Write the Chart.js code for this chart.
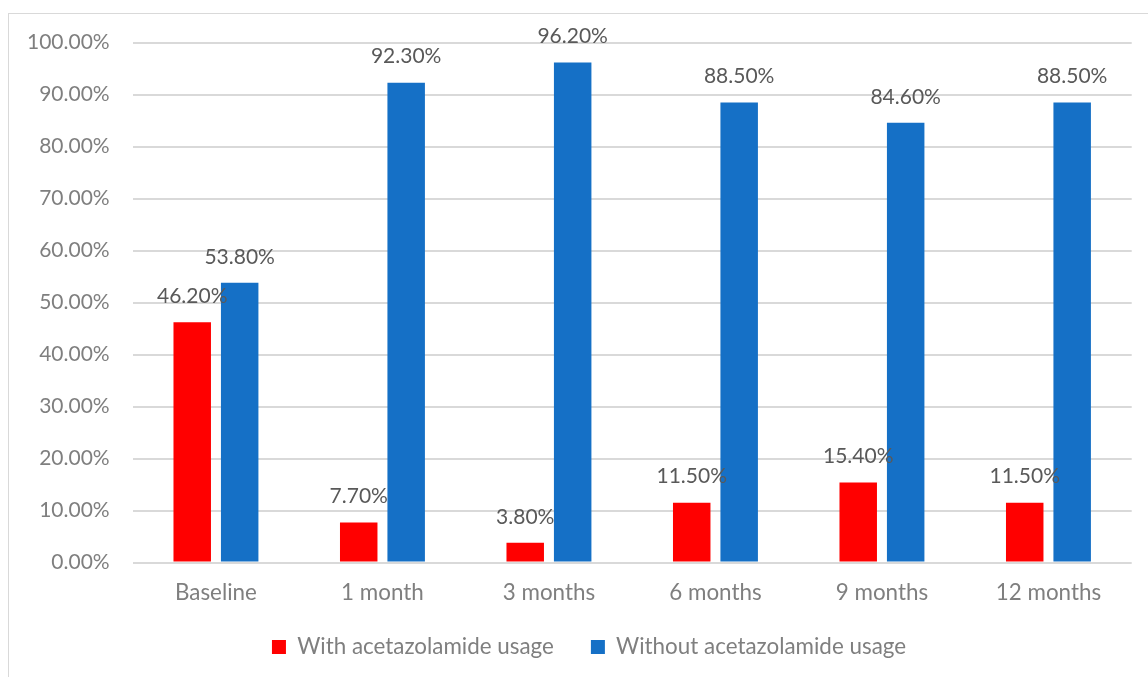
<!DOCTYPE html>
<html>
<head>
<meta charset="utf-8">
<script src="https://cdn.jsdelivr.net/npm/chart.js@4.4.1/dist/chart.umd.min.js"></script>
<style>
  html, body { margin: 0; padding: 0; background: #fff; overflow: hidden; width: 1148px; height: 677px; }
  #frame { position: absolute; left: 8px; top: 13px; border: 1px solid #D9D9D9; width: 1160px; height: 700px; }
  #chart { display: block; }
</style>
</head>
<body>
<div id="frame"><canvas id="chart" width="1160" height="700"></canvas></div>
<script>
// Visit categories
const categories = ['Baseline', '1 month', '3 months', '6 months', '9 months', '12 months'];
// Share of patients (%) per visit
const withAcetazolamide = [46.2, 7.7, 3.8, 11.5, 15.4, 11.5];
const withoutAcetazolamide = [53.8, 92.3, 96.2, 88.5, 84.6, 88.5];
// Series names
const seriesNames = ['With acetazolamide usage', 'Without acetazolamide usage'];
// Y axis range and tick step
const yMin = 0, yMax = 100, yStep = 10;

const fmtPct = v => Number(v).toFixed(2) + '%';

// Legend sits centred under the whole frame, a little below the axis labels
const LEGEND_LEFT = 37.3;
const LEGEND_TEXT_Y = 633;
const legendPlacement = {
  id: 'legendPlacement',
  afterLayout(chart) {
    const lg = chart.legend;
    const opts = lg.options.labels;
    lg.left = LEGEND_LEFT;
    lg.width = lg.right - lg.left;
    lg.top = LEGEND_TEXT_Y - opts.padding - opts.font.size / 2;
    lg.bottom = lg.top + lg.height;
  }
};

// Writes each bar's value just above it
const valueLabels = {
  id: 'valueLabels',
  afterDatasetsDraw(chart) {
    const ctx = chart.ctx;
    ctx.save();
    ctx.font = '21px Lato';
    ctx.fillStyle = '#595959';
    ctx.textAlign = 'center';
    ctx.textBaseline = 'middle';
    chart.data.datasets.forEach((ds, i) => {
      chart.getDatasetMeta(i).data.forEach((bar, j) => {
        ctx.fillText(fmtPct(ds.data[j]), bar.x, bar.y - 26);
      });
    });
    ctx.restore();
  }
};

Chart.defaults.font.family = 'Lato';
Chart.defaults.font.size = 21;
Chart.defaults.color = '#7F7F7F';

new Chart(document.getElementById('chart'), {
  type: 'bar',
  data: {
    labels: categories,
    datasets: [
      { label: seriesNames[0], data: withAcetazolamide, backgroundColor: '#FF0000', borderWidth: 0,
        categoryPercentage: 0.57, barPercentage: 0.79 },
      { label: seriesNames[1], data: withoutAcetazolamide, backgroundColor: '#1570C6', borderWidth: 0,
        categoryPercentage: 0.57, barPercentage: 0.79 }
    ]
  },
  options: {
    responsive: false,
    animation: false,
    layout: { padding: { left: 0, right: 37.3, top: 28.7, bottom: 32.1 } },
    scales: {
      x: {
        grid: { display: false, drawTicks: false },
        border: { display: false },
        ticks: { padding: 17, color: '#7F7F7F', font: { size: 22.4 } },
        afterFit(scale) { scale.height = 50; }
      },
      y: {
        min: yMin,
        max: yMax,
        ticks: { stepSize: yStep, padding: 0, color: '#7F7F7F', callback: v => fmtPct(v) },
        // invisible tick marks keep the labels clear of the plot
        grid: { color: '#D9D9D9', lineWidth: 2, drawTicks: true, tickLength: 23, tickColor: 'rgba(0,0,0,0)' },
        border: { display: false },
        afterFit(scale) { scale.width = 123.7; }
      }
    },
    plugins: {
      legend: {
        position: 'bottom',
        labels: { boxWidth: 14, boxHeight: 14, padding: 37, color: '#7F7F7F', font: { size: 22.4 } }
      },
      tooltip: { enabled: false }
    }
  },
  plugins: [legendPlacement, valueLabels]
});
</script>
</body>
</html>
